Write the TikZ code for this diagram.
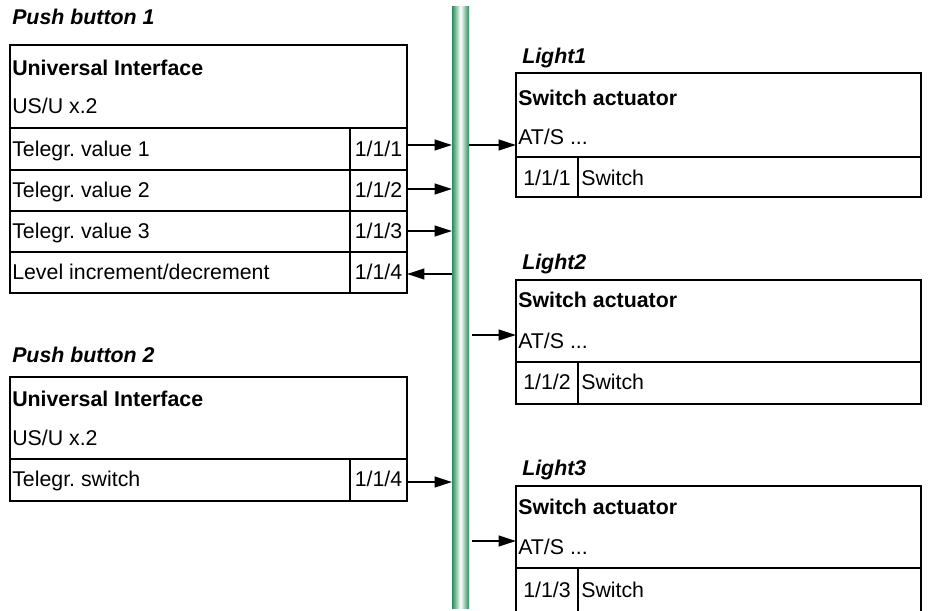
\documentclass[tikz,border=0pt]{standalone}
\usepackage{fontspec}
\setmainfont{Liberation Sans}
\usepackage{xcolor}
\usetikzlibrary{arrows.meta}
\frenchspacing

\definecolor{busgreen}{RGB}{40,142,90}

\tikzset{
  box/.style={line width=1.5},
  txt/.style={anchor=base west, inner sep=0.75pt, font=\fontsize{16}{19}\selectfont},
  hdr/.style={txt, font=\fontsize{16}{19}\selectfont\bfseries},
  ttl/.style={txt, font=\fontsize{16}{19}\selectfont\bfseries\itshape},
  adr/.style={txt, anchor=base},
  sig/.style={-{Triangle[length=13pt,width=8pt]}, line width=1.5},
}

\begin{document}
\begin{tikzpicture}[x=0.75pt,y=0.75pt,yscale=-1,xscale=1]
        \clip (0,0) rectangle (930,610);

        %Shape: Bus line
        \shade [left color=busgreen, right color=busgreen, middle color=white] (452,7) rectangle (469,608);
        \coordinate (busW) at (452,0);
        \coordinate (busE) at (469,0);

        %Shape: Push button 1
        \draw [box] (10,45) rectangle (407,293);
        \draw [box] (10,128) -- (407,128);
        \draw [box] (10,170) -- (407,170);
        \draw [box] (10,211) -- (407,211);
        \draw [box] (10,252) -- (407,252);
        \draw [box] (350,128) -- (350,293);

        %Shape: Push button 2
        \draw [box] (10,377) rectangle (407,501);
        \draw [box] (10,459) -- (407,459);
        \draw [box] (350,459) -- (350,501);

        %Shape: Light1
        \draw [box] (516,73) rectangle (921,197);
        \draw [box] (516,157) -- (921,157);
        \draw [box] (578,157) -- (578,197);

        %Shape: Light2
        \draw [box] (516,280) rectangle (921,404);
        \draw [box] (516,362) -- (921,362);
        \draw [box] (578,362) -- (578,404);

        %Shape: Light3
        \draw [box] (516,486) rectangle (921,614);
        \draw [box] (516,568) -- (921,568);
        \draw [box] (578,568) -- (578,614);

        % Text Node
        \draw (11,25) node [ttl] (pb1) {Push button 1};
        \draw (11,75) node [hdr] (pb1ui) {Universal Interface};
        \draw (11,113) node [txt] (pb1us) {US/U x.2};
        \draw (11,156) node [txt] (pb1v1) {Telegr. value 1};
        \draw (11,197) node [txt] (pb1v2) {Telegr. value 2};
        \draw (11,238) node [txt] (pb1v3) {Telegr. value 3};
        \draw (11,279) node [txt] (pb1lv) {Level increment/decrement};
        \draw (378.5,156) node [adr] (pb1a1) {1/1/1};
        \draw (378.5,197) node [adr] (pb1a2) {1/1/2};
        \draw (378.5,238) node [adr] (pb1a3) {1/1/3};
        \draw (378.5,279) node [adr] (pb1a4) {1/1/4};

        % Text Node
        \draw (11,362) node [ttl] (pb2) {Push button 2};
        \draw (11,406) node [hdr] (pb2ui) {Universal Interface};
        \draw (11,445) node [txt] (pb2us) {US/U x.2};
        \draw (11,486) node [txt] (pb2sw) {Telegr. switch};
        \draw (378.5,486) node [adr] (pb2a1) {1/1/4};

        % Text Node
        \draw (521,64) node [ttl] (l1) {Light1};
        \draw (517,105) node [hdr] (l1sa) {Switch actuator};
        \draw (517,144) node [txt] (l1at) {AT/S ...};
        \draw (547,185) node [adr] (l1a) {1/1/1};
        \draw (580,185) node [txt] (l1sw) {Switch};

        \draw (521,269) node [ttl] (l2) {Light2};
        \draw (517,307) node [hdr] (l2sa) {Switch actuator};
        \draw (517,348) node [txt] (l2at) {AT/S ...};
        \draw (547,389) node [adr] (l2a) {1/1/2};
        \draw (580,389) node [txt] (l2sw) {Switch};

        \draw (521,475) node [ttl] (l3) {Light3};
        \draw (517,514) node [hdr] (l3sa) {Switch actuator};
        \draw (517,554) node [txt] (l3at) {AT/S ...};
        \draw (547,597) node [adr] (l3a) {1/1/3};
        \draw (580,597) node [txt] (l3sw) {Switch};

        % Ends of the telegram lines
        \coordinate (pb1e1) at (407,145);
        \coordinate (pb1e2) at (407,189);
        \coordinate (pb1e3) at (407,231);
        \coordinate (pb1e4) at (407,274);
        \coordinate (pb2e1) at (407,482);
        \coordinate (l1e) at (516,145);
        \coordinate (l2e) at (516,335);
        \coordinate (l3e) at (516,541);

        \draw [sig] (pb1e1) -- (busW |- pb1e1);
        \draw [sig] (pb1e2) -- (busW |- pb1e2);
        \draw [sig] (pb1e3) -- (busW |- pb1e3);
        \draw [sig] (busW |- pb1e4) -- (pb1e4);
        \draw [sig] (pb2e1) -- (busW |- pb2e1);
        \draw [sig] (busE |- l1e) -- (l1e);
        \draw [sig] ([xshift=2.25pt]busE |- l2e) -- (l2e);
        \draw [sig] ([xshift=2.25pt]busE |- l3e) -- (l3e);
\end{tikzpicture}
\end{document}
